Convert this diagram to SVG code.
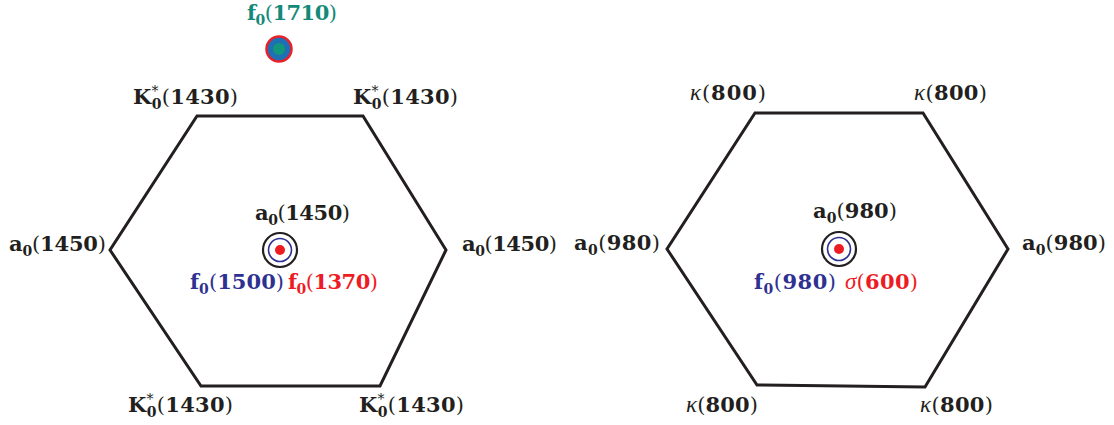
<svg xmlns="http://www.w3.org/2000/svg" width="1114" height="425" viewBox="0 0 1114 425">
<style>
.t{font-family:"DejaVu Serif","Liberation Serif",serif;font-size:21px;font-weight:bold;fill:#231f20}
.p{font-weight:normal}
.s{font-size:14px}
.g{font-family:"Liberation Serif","DejaVu Serif",serif;font-style:italic;font-weight:normal;font-size:23px}
.blue{fill:#2e3192}
.red{fill:#ed1c24}
.teal{fill:#13897a}
.hex{fill:none;stroke:#231f20;stroke-width:3;stroke-linejoin:miter}
</style>
<rect width="1114" height="425" fill="#ffffff"/>
<g id="connectors">
<polygon class="hex" points="197,116 363,116 446,250 380,386 201,386 110,250"/>
<polygon class="hex" points="755,113 923,113 1008,249 925,387 757,385 667,249"/>
</g>
<g id="f0-1710">
<circle cx="279" cy="49" r="12.5" fill="#1f6fb5" stroke="#e8202a" stroke-width="2.5"/>
<circle cx="279" cy="49" r="6" fill="#13977c"/>
<text class="t teal" x="247" y="20" textLength="90">f<tspan class="s" dy="5">0</tspan><tspan class="p" dy="-5">(</tspan>1710<tspan class="p">)</tspan></text>
</g>
<g id="left-center">
<circle cx="280" cy="250" r="17" fill="none" stroke="#231f20" stroke-width="2.2"/>
<circle cx="280" cy="250" r="11.5" fill="none" stroke="#2e3192" stroke-width="1.6"/>
<circle cx="280" cy="250" r="5" fill="#ed1c24"/>
<text class="t" x="255" y="220" textLength="95">a<tspan class="s" dy="5">0</tspan><tspan class="p" dy="-5">(</tspan>1450<tspan class="p">)</tspan></text>
<text class="t blue" x="190" y="289" textLength="94">f<tspan class="s" dy="5">0</tspan><tspan class="p" dy="-5">(</tspan>1500<tspan class="p">)</tspan></text>
<text class="t red" x="288" y="289" textLength="90">f<tspan class="s" dy="5">0</tspan><tspan class="p" dy="-5">(</tspan>1370<tspan class="p">)</tspan></text>
</g>
<g id="left-vertices">
<text class="t" x="133" y="104" textLength="105">K<tspan class="s p" dy="-8">*</tspan><tspan class="s" dx="-7" dy="13">0</tspan><tspan class="p" dy="-5">(</tspan>1430<tspan class="p">)</tspan></text>
<text class="t" x="353" y="104" textLength="105">K<tspan class="s p" dy="-8">*</tspan><tspan class="s" dx="-7" dy="13">0</tspan><tspan class="p" dy="-5">(</tspan>1430<tspan class="p">)</tspan></text>
<text class="t" x="9" y="251" textLength="97">a<tspan class="s" dy="5">0</tspan><tspan class="p" dy="-5">(</tspan>1450<tspan class="p">)</tspan></text>
<text class="t" x="462" y="251" textLength="95">a<tspan class="s" dy="5">0</tspan><tspan class="p" dy="-5">(</tspan>1450<tspan class="p">)</tspan></text>
<text class="t" x="128" y="412" textLength="105">K<tspan class="s p" dy="-8">*</tspan><tspan class="s" dx="-7" dy="13">0</tspan><tspan class="p" dy="-5">(</tspan>1430<tspan class="p">)</tspan></text>
<text class="t" x="359" y="412" textLength="105">K<tspan class="s p" dy="-8">*</tspan><tspan class="s" dx="-7" dy="13">0</tspan><tspan class="p" dy="-5">(</tspan>1430<tspan class="p">)</tspan></text>
</g>
<g id="right-center">
<circle cx="839" cy="249" r="17" fill="none" stroke="#231f20" stroke-width="2.2"/>
<circle cx="839" cy="249" r="11.5" fill="none" stroke="#2e3192" stroke-width="1.6"/>
<circle cx="839" cy="249" r="5" fill="#ed1c24"/>
<text class="t" x="813" y="218" textLength="84">a<tspan class="s" dy="5">0</tspan><tspan class="p" dy="-5">(</tspan>980<tspan class="p">)</tspan></text>
<text class="t blue" x="754" y="289" textLength="82">f<tspan class="s" dy="5">0</tspan><tspan class="p" dy="-5">(</tspan>980<tspan class="p">)</tspan></text>
<text class="t red" x="845" y="289" textLength="73"><tspan class="g">σ</tspan><tspan class="p">(</tspan>600<tspan class="p">)</tspan></text>
</g>
<g id="right-vertices">
<text class="t" x="690" y="100" textLength="76"><tspan class="g">κ</tspan><tspan class="p">(</tspan>800<tspan class="p">)</tspan></text>
<text class="t" x="914" y="100" textLength="73"><tspan class="g">κ</tspan><tspan class="p">(</tspan>800<tspan class="p">)</tspan></text>
<text class="t" x="574" y="250" textLength="86">a<tspan class="s" dy="5">0</tspan><tspan class="p" dy="-5">(</tspan>980<tspan class="p">)</tspan></text>
<text class="t" x="1022" y="250" textLength="84">a<tspan class="s" dy="5">0</tspan><tspan class="p" dy="-5">(</tspan>980<tspan class="p">)</tspan></text>
<text class="t" x="686" y="412" textLength="72"><tspan class="g">κ</tspan><tspan class="p">(</tspan>800<tspan class="p">)</tspan></text>
<text class="t" x="920" y="412" textLength="73"><tspan class="g">κ</tspan><tspan class="p">(</tspan>800<tspan class="p">)</tspan></text>
</g>
</svg>
